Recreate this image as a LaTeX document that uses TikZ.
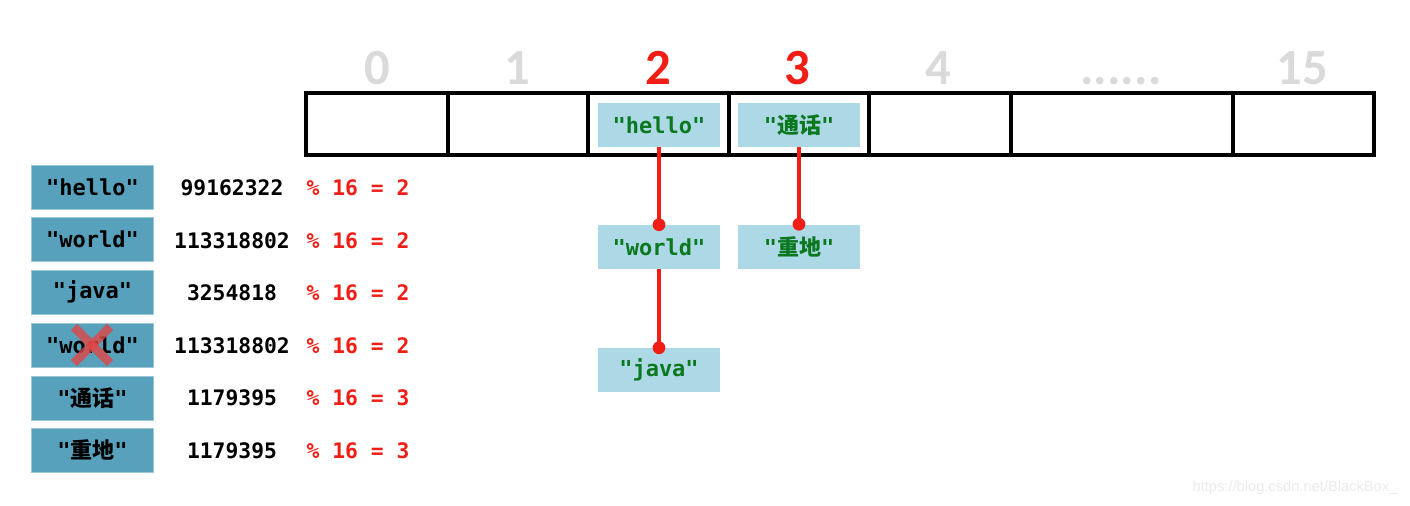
\documentclass[tikz,border=0pt]{standalone}
\usepackage{fontspec}
\setmonofont{DejaVu Sans Mono}
\newfontfamily\cjk{Noto Sans CJK SC}
\newfontfamily\idxfont{Carlito}
\newfontfamily\wmfont{Liberation Sans}
\definecolor{lblue}{RGB}{173,216,230}
\definecolor{sblue}{RGB}{88,161,188}
\definecolor{dgreen}{RGB}{10,120,30}
\definecolor{hred}{RGB}{240,30,20}
\definecolor{idxgray}{RGB}{218,218,218}
\definecolor{xred}{RGB}{225,70,70}
\newcommand{\zhq}[1]{"{\cjk\bfseries #1}"}
\tikzset{
  slot/.style={draw=black, line width=2.6pt, inner sep=0pt, minimum height=46.5pt},
  entry/.style={fill=lblue, inner sep=0pt, minimum width=91.5pt, minimum height=33pt,
    text=dgreen, font=\ttfamily\bfseries\fontsize{16.5}{18}\selectfont},
  key/.style={fill=sblue, draw=sblue!60!white, line width=0.6pt, inner sep=0pt, minimum width=92pt, minimum height=33pt,
    text=black, font=\ttfamily\bfseries\fontsize{16.5}{18}\selectfont},
  hashnum/.style={text=black, font=\ttfamily\bfseries\fontsize{16}{18}\selectfont},
  modnum/.style={text=hred, font=\ttfamily\bfseries\fontsize{16}{18}\selectfont},
  idx/.style={text=idxgray, anchor=base, font=\idxfont\bfseries\fontsize{38}{40}\selectfont},
  idxhot/.style={idx, text=hred},
  link/.style={draw=hred, line width=2.6pt},
  dot/.style={fill=hred},
}
\begin{document}
\begin{tikzpicture}[x=0.75pt,y=-0.75pt]
\fill[white] (0,0) rectangle (1410,506);
\useasboundingbox (0,0) rectangle (1410,506);
% array slots
\node[slot, minimum width=106.5pt] (s0) at (377,124) {};
\node[slot, minimum width=105pt] (s1) at (518,124) {};
\node[slot, minimum width=105.75pt] (s2) at (658.5,124) {};
\node[slot, minimum width=105pt] (s3) at (799,124) {};
\node[slot, minimum width=106.5pt] (s4) at (940,124) {};
\node[slot, minimum width=166.5pt] (sd) at (1122,124) {};
\node[slot, minimum width=105.75pt] (s15) at (1303.5,124) {};
% indices
\node[idx] (i0) at (377,85) {0};
\node[idx] (i1) at (517,85) {1};
\node[idxhot] (i2) at (658,85) {2};
\node[idxhot] (i3) at (797,85) {3};
\node[idx] (i4) at (938,85) {4};
\node[idx] (id) at (1121,85) {......};
\node[idx] (i15) at (1302,85) {15};
% entries
\node[entry] (hello) at (659,125) {"hello"};
\node[entry] (tonghua) at (799,125) {\zhq{通话}};
\node[entry] (world) at (659,247) {"world"};
\node[entry] (zhongdi) at (799,246.5) {\zhq{重地}};
\node[entry] (java) at (659,370) {"java"};
% links
\draw[link] (hello.south) -- (world.north);
\fill[dot] (world.north) circle (4.8pt);
\draw[link] (tonghua.south) -- (zhongdi.north);
\fill[dot] (zhongdi.north) circle (4.8pt);
\draw[link] (world.south) -- (java.north);
\fill[dot] (java.north) circle (4.8pt);
% keys
\node[key] (k1) at (92.5,187) {"hello"};
\node[key] (k2) at (92.5,239) {"world"};
\node[key] (k3) at (92.5,292) {"java"};
\node[key] (k4) at (92.5,345) {"world"};
\node[key] (k5) at (92.5,398) {\zhq{通话}};
\node[key] (k6) at (92.5,450) {\zhq{重地}};
% hashes
\node[hashnum] (h1) at (232,188) {99162322};
\node[hashnum] (h2) at (232,241) {113318802};
\node[hashnum] (h3) at (232,293) {3254818};
\node[hashnum] (h4) at (232,346) {113318802};
\node[hashnum] (h5) at (232,398) {1179395};
\node[hashnum] (h6) at (232,451) {1179395};
\node[modnum] (m1) at (358,188) {\% 16 = 2};
\node[modnum] (m2) at (358,241) {\% 16 = 2};
\node[modnum] (m3) at (358,293) {\% 16 = 2};
\node[modnum] (m4) at (358,346) {\% 16 = 2};
\node[modnum] (m5) at (358,398) {\% 16 = 3};
\node[modnum] (m6) at (358,451) {\% 16 = 3};
% cross
\coordinate (xc) at (92,345);
\draw[xred, opacity=0.8, line width=6.5pt] ([shift={(-18,-18)}]xc) -- ([shift={(18,18)}]xc);
\draw[xred, opacity=0.8, line width=6.5pt] ([shift={(18,-18)}]xc) -- ([shift={(-18,18)}]xc);
% watermark
\node[text=black!8, font=\wmfont\fontsize{11}{13}\selectfont, anchor=east] (wm) at (1402,488) {https://blog.csdn.net/BlackBox\_};
\end{tikzpicture}
\end{document}
